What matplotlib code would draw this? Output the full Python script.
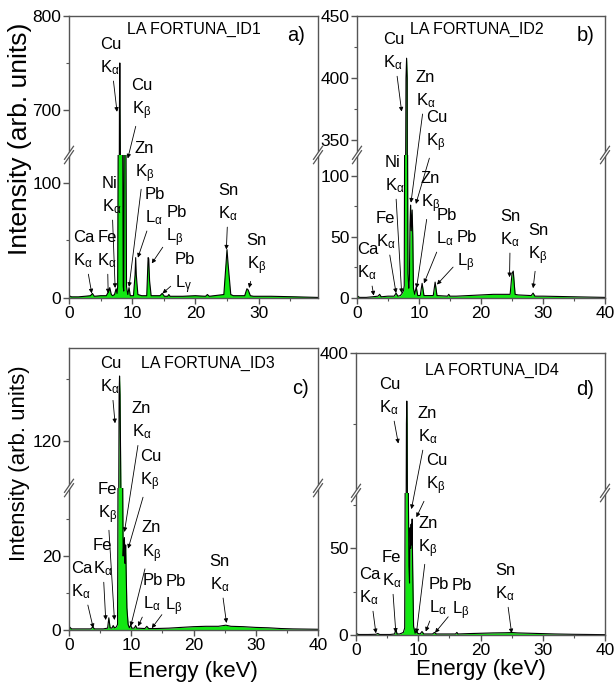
import matplotlib
matplotlib.use("Agg")
import matplotlib.pyplot as plt
from matplotlib.ticker import MultipleLocator
from matplotlib.lines import Line2D
from matplotlib.patches import Polygon

plt.rcParams['font.family'] = ['Liberation Sans', 'DejaVu Sans']
plt.rcParams['mathtext.fontset'] = 'custom'
plt.rcParams['mathtext.rm'] = 'Liberation Sans'
plt.rcParams['mathtext.it'] = 'Liberation Sans'
plt.rcParams['mathtext.sf'] = 'Liberation Sans'

# ---- spectra (energy keV, intensity) ----
E_a = [0, 0.4, 1.5, 2.5, 3.4, 3.7, 4.0, 5.0, 5.9, 6.2, 6.45, 6.7, 6.9, 7.2, 7.45, 7.6,
       7.7, 7.78, 7.98, 8.04, 8.1, 8.5, 8.58, 8.66, 8.72, 8.9, 9.02, 9.1, 9.3, 9.5, 9.7,
       10.2, 10.45, 10.55, 10.65, 10.9, 11.5, 12.3, 12.52, 12.62, 12.75, 13.0, 14.4, 14.75,
       15.1, 15.6, 15.8, 16.0, 18.0, 20.0, 21.6, 21.9, 22.2, 24.5, 24.85, 25.0, 25.2, 25.6,
       26.0, 27.8, 28.15, 28.35, 28.7, 29.2, 32.0, 36.0, 39.4]
I_a = [2, 1, 1, 1.5, 2, 4, 1.5, 2, 2, 5, 9, 3, 2, 3, 8, 4,
       10, 135, 700, 750, 700, 135, 10, 6, 135, 150, 135, 10, 3, 9, 2,
       2, 20, 35, 20, 3, 2, 2, 35, 34, 15, 2, 2, 4,
       1.5, 1.5, 3, 1.5, 1.5, 2, 1.5, 3, 1.5, 3, 30, 42, 28, 3,
       2, 2, 8, 7, 2, 1.5, 1.5, 1, 0.5]

E_b = [0, 0.4, 1.5, 2.5, 3.4, 3.65, 3.9, 5.0, 6.0, 6.3, 6.6, 7.0, 7.3, 7.5, 7.62, 7.68,
       7.9, 8.0, 8.1, 8.15, 8.22, 8.35, 8.45, 8.55, 8.64, 8.75, 8.9, 9.0, 9.1, 9.3, 9.55,
       9.8, 10.2, 10.5, 10.8, 12.3, 12.6, 12.9, 14.6, 14.8, 15.0, 16.0, 18.0, 20.0, 22.0,
       24.7, 25.0, 25.2, 25.5, 26.0, 28.1, 28.4, 28.7, 30.0, 35.0, 40.0]
I_b = [2, 0.5, 0.5, 1, 1.5, 3, 1, 1.5, 1.5, 4, 1.5, 2, 4, 6, 10, 130,
       400, 416, 400, 130, 20, 8, 15, 60, 76, 55, 72, 50, 8, 3, 9,
       2, 2, 12, 2, 2, 13, 2, 1.5, 3, 1.5, 1.5, 2, 2.5, 3,
       3, 20, 22, 3, 2.5, 2, 4, 1.5, 1.5, 1, 0.5]

E_c = [0, 0.4, 2.0, 3.5, 3.8, 4.1, 5.5, 6.2, 6.4, 6.6, 6.9, 7.1, 7.3, 7.6, 7.8, 7.88,
       8.05, 8.12, 8.2, 8.6, 8.7, 8.75, 8.9, 9.0, 9.1, 9.3, 9.5, 9.7, 9.9, 10.1, 10.5,
       10.7, 10.9, 12.2, 12.5, 12.8, 14.0, 16.0, 18.0, 20.0, 22.0, 24.0, 25.2, 26.0, 28.0,
       30.0, 32.0, 34.0, 36.0, 40.0]
I_c = [1, 0.3, 0.3, 0.3, 0.8, 0.3, 0.3, 0.5, 3.3, 0.6, 0.5, 1.2, 0.6, 0.8, 1.5, 45,
       135, 141, 135, 45, 20, 22, 25, 18, 23, 6, 1.5, 0.6, 1.3, 0.5, 0.5,
       1.2, 0.5, 0.4, 1.0, 0.4, 0.4, 0.5, 0.7, 0.9, 1.0, 1.0, 1.3, 1.0, 0.9,
       0.7, 0.6, 0.4, 0.3, 0.2]

E_d = [0, 0.4, 2.0, 3.2, 3.5, 3.8, 5.5, 6.2, 6.4, 6.6, 7.0, 7.3, 7.6, 7.82, 7.9, 8.1,
       8.16, 8.22, 8.4, 8.5, 8.6, 8.7, 8.78, 8.85, 8.95, 9.02, 9.1, 9.25, 9.5, 9.7, 9.9,
       10.3, 10.6, 10.9, 12.3, 12.6, 12.9, 14.0, 16.0, 16.2, 16.4, 18.0, 20.0, 22.0, 24.0,
       25.1, 26.0, 28.0, 30.0, 32.0, 35.0, 40.0]
I_d = [1, 0.3, 0.3, 0.4, 0.9, 0.3, 0.3, 0.6, 3.5, 0.6, 0.6, 1, 1.5, 4, 90, 350,
       366, 350, 90, 40, 30, 62, 50, 64, 52, 67, 40, 5, 1, 3, 1,
       0.6, 2, 0.6, 0.6, 1.5, 0.6, 0.6, 0.6, 1.5, 0.6, 0.8, 1.0, 1.2, 1.3,
       1.4, 1.2, 1.0, 0.8, 0.6, 0.4, 0.2]

# ---- peak labels: text, text position (keV, panel fraction), arrow tip axis and (keV, counts) ----
A = r"K$_{\alpha}$"
B = r"K$_{\beta}$"
labels_a = [("Cu\n" + A, 4.9, 0.855, "u", 7.6, 698), ("Cu\n" + B, 9.9, 0.702, "l", 9.3, 121),
            ("Zn\n" + B, 10.4, 0.479, "l", 9.5, 9.6), ("Ni\n" + A, 5.2, 0.362, "l", 7.3, 8.7),
            ("Pb\nL$_{\\alpha}$", 12.0, 0.323, "l", 10.9, 35), ("Pb\nL$_{\\beta}$", 15.4, 0.252, "l", 13.1, 30),
            ("Pb\nL$_{\\gamma}$", 16.7, 0.085, "l", 14.8, 4), ("Sn\n" + A, 23.6, 0.337, "l", 24.9, 42),
            ("Sn\n" + B, 28.1, 0.152, "l", 28.5, 8.7), ("Ca\n" + A, 0.7, 0.170, "l", 3.6, 4),
            ("Fe\n" + A, 4.5, 0.170, "l", 6.2, 4)]
labels_b = [("Cu\n" + A, 4.25, 0.872, "u", 7.2, 373), ("Zn\n" + A, 9.5, 0.738, "l", 8.7, 78),
            ("Cu\n" + B, 11.2, 0.589, "l", 9.5, 77), ("Ni\n" + A, 4.5, 0.436, "l", 7.2, 4),
            ("Zn\n" + B, 10.3, 0.372, "l", 9.6, 8), ("Pb\nL$_{\\alpha}$", 12.8, 0.248, "l", 10.8, 12),
            ("Pb\nL$_{\\beta}$", 16.1, 0.163, "l", 12.9, 11), ("Sn\n" + A, 23.1, 0.245, "l", 24.6, 17),
            ("Sn\n" + B, 27.6, 0.188, "l", 28.4, 8), ("Ca\n" + A, 0.05, 0.128, "l", 2.7, 2),
            ("Fe\n" + A, 3.06, 0.238, "l", 6.3, 4)]
labels_c = [("Cu\n" + A, 5.0, 0.90, "u", 7.4, 125.8), ("Zn\n" + A, 10.1, 0.74, "l", 8.9, 26.5),
            ("Cu\n" + B, 11.4, 0.564, "l", 9.5, 22), ("Fe\n" + B, 4.6, 0.447, "l", 7.3, 2.7),
            ("Zn\n" + B, 11.7, 0.31, "l", 9.9, 1), ("Fe\n" + A, 3.8, 0.255, "l", 5.9, 2.7),
            ("Ca\n" + A, 0.4, 0.174, "l", 3.9, 0.5), ("Pb\nL$_{\\alpha}$", 11.9, 0.131, "l", 11.1, 1),
            ("Pb\nL$_{\\beta}$", 15.5, 0.12, "l", 13.3, 0.5), ("Sn\n" + A, 22.6, 0.199, "l", 25.3, 1.9)]
labels_d = [("Cu\n" + A, 3.7, 0.844, "u", 6.8, 336), ("Zn\n" + A, 9.9, 0.741, "l", 8.9, 72.7),
            ("Cu\n" + B, 11.2, 0.567, "l", 9.7, 68), ("Zn\n" + B, 10.0, 0.344, "l", 9.7, 1),
            ("Fe\n" + A, 4.1, 0.23, "l", 6.4, 1.3), ("Ca\n" + A, 0.5, 0.17, "l", 3.2, 1),
            ("Pb\nL$_{\\alpha}$", 11.7, 0.135, "l", 11.2, 2), ("Pb\nL$_{\\beta}$", 15.4, 0.124, "l", 12.7, 1.3),
            ("Sn\n" + A, 22.3, 0.184, "l", 25.0, 1)]

titles = ["LA FORTUNA_ID1", "LA FORTUNA_ID2", "LA FORTUNA_ID3", "LA FORTUNA_ID4"]
tags = ["a)", "b)", "c)", "d)"]

W, H = 615, 686
GREEN = '#12e812'
SPINE = '#555555'

fig = plt.figure(figsize=(W / 100, H / 100), dpi=100)


def rect(l, r, t, b):
    return [l / W, 1 - b / H, (r - l) / W, (b - t) / H]


def break_mark(x, y):
    dx, dy, g = 4.5 / W, 6.5 / H, 2.2 / H
    fig.add_artist(Polygon([(x - dx, y - dy - g), (x + dx, y + dy - g), (x + dx, y + dy + g),
                            (x - dx, y - dy + g)], closed=True, transform=fig.transFigure,
                           fc='white', ec='none', zorder=10))
    for s in (-g, g):
        fig.add_artist(Line2D([x - dx, x + dx], [y - dy + s, y + dy + s], transform=fig.transFigure,
                              color=SPINE, lw=0.9, zorder=11))


def style(ax, major, minor):
    for s in ax.spines.values():
        s.set_color(SPINE)
        s.set_linewidth(1.0)
    ax.yaxis.set_major_locator(MultipleLocator(major))
    ax.yaxis.set_minor_locator(MultipleLocator(minor))
    ax.tick_params(which='both', direction='out', color=SPINE, labelsize=12.5, pad=1.5,
                   right=False, top=False)
    ax.tick_params(which='major', length=4, width=1)
    ax.tick_params(which='minor', length=2.5, width=0.8)
    ax.set_facecolor('none')


def panel(box, E, I, xmax, ylow, yup, loc_low, loc_up, title, tag, title_xy, tag_xy, labels):
    l, r, t, brk, b = box
    ax_up = fig.add_axes(rect(l, r, t, brk))
    ax_lo = fig.add_axes(rect(l, r, brk, b))
    for ax in (ax_up, ax_lo):
        ax.fill_between(E, I, 0, color=GREEN, lw=0)
        ax.plot(E, I, color='k', lw=0.8)
        ax.set_xlim(0, xmax)
    ax_up.set_ylim(*yup)
    ax_lo.set_ylim(*ylow)
    style(ax_up, *loc_up)
    style(ax_lo, *loc_low)
    ax_up.spines['bottom'].set_visible(False)
    ax_up.tick_params(axis='x', which='both', bottom=False, labelbottom=False)
    ax_lo.spines['top'].set_visible(False)
    ax_lo.xaxis.set_major_locator(MultipleLocator(10))
    ax_lo.xaxis.set_minor_locator(MultipleLocator(5))
    ax_lo.tick_params(axis='x', labelsize=12.5)

    ax_up.text(title_xy[0], title_xy[1], title, transform=ax_up.transAxes,
               ha='center', va='center', fontsize=11.5)
    ax_up.text(tag_xy[0], tag_xy[1], tag, transform=ax_up.transAxes,
               ha='center', va='center', fontsize=14.5)

    ov = fig.add_axes(rect(l, r, t, b))
    ov.set_xlim(0, xmax)
    ov.set_ylim(0, 1)
    ov.axis('off')
    for txt, tx, ty, which, px, py in labels:
        tgt = ax_up if which == 'u' else ax_lo
        ov.annotate(txt, xy=(px, py), xycoords=tgt.transData, xytext=(tx, ty), textcoords='data',
                    ha='left', va='center', fontsize=12, linespacing=1.45,
                    arrowprops=dict(arrowstyle='-|>', color='k', lw=0.6, mutation_scale=6,
                                    shrinkA=1, shrinkB=0),
                    annotation_clip=False)

    yb = 1 - brk / H
    break_mark(l / W, yb)
    break_mark(r / W, yb)


panel((69, 318, 16, 155, 298), E_a, I_a, 39.4, (0, 124), (652, 800), (100, 50), (100, 50),
      titles[0], tags[0], (0.502, 0.906), (0.912, 0.863), labels_a)
panel((357, 605, 16, 155, 298), E_b, I_b, 40, (0, 117), (338, 450), (50, 25), (50, 25),
      titles[1], tags[1], (0.483, 0.906), (0.923, 0.86), labels_b)
panel((69, 318, 348, 488, 630), E_c, I_c, 40, (0, 38.4), (105, 150), (20, 10), (40, 20),
      titles[2], tags[2], (0.558, 0.893), (0.93, 0.714), labels_c)
panel((356, 605, 353, 493, 635), E_d, I_d, 40, (0, 82), (301, 400), (50, 25), (100, 50),
      titles[3], tags[3], (0.545, 0.879), (0.92, 0.736), labels_d)

fig.text(20 / W, 1 - 139 / H, 'Intensity (arb. units)', rotation=90, ha='center', va='center', fontsize=19)
fig.text(20 / W, 1 - 463 / H, 'Intensity (arb. units)', rotation=90, ha='center', va='center', fontsize=16)
fig.text(193 / W, 1 - 672 / H, 'Energy (keV)', ha='center', va='center', fontsize=16)
fig.text(481 / W, 1 - 670 / H, 'Energy (keV)', ha='center', va='center', fontsize=16)

fig.savefig('out.png', dpi=100)
